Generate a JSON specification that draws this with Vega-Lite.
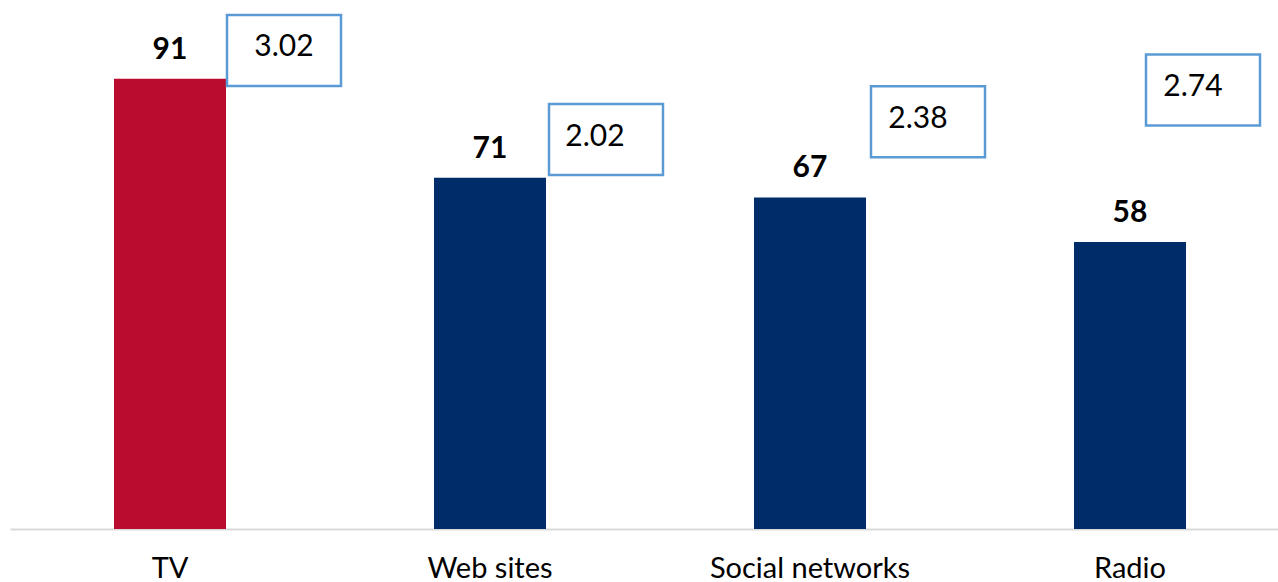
{
  "$schema": "https://vega.github.io/schema/vega-lite/v6.json",
  "autosize": "none",
  "width": 1280,
  "height": 529,
  "padding": {"left": 10, "top": 0, "right": 0, "bottom": 53},
  "background": "white",
  "config": {"view": {"stroke": null}, "font": "Lato"},
  "data": {
    "values": [
      {"cat": "TV", "value": 91, "score": "3.02", "boxLevel": 96.7, "highlight": "yes"},
      {"cat": "Web sites", "value": 71, "score": "2.02", "boxLevel": 78.7, "highlight": "no"},
      {"cat": "Social networks", "value": 67, "score": "2.38", "boxLevel": 82.3, "highlight": "no"},
      {"cat": "Radio", "value": 58, "score": "2.74", "boxLevel": 88.7, "highlight": "no"}
    ]
  },
  "encoding": {
    "x": {
      "field": "cat",
      "type": "nominal",
      "sort": null,
      "scale": {"paddingInner": 0.65, "paddingOuter": 0.325},
      "axis": {
        "title": null,
        "ticks": false,
        "tickSize": 0,
        "labelAngle": 0,
        "labelLimit": 0,
        "labelFont": "Lato",
        "labelFontSize": 29,
        "labelColor": "#000000",
        "labelBaseline": "alphabetic",
        "labelPadding": 48,
        "domainColor": "#D9D9D9",
        "domainWidth": 2,
        "grid": false
      }
    }
  },
  "layer": [
    {
      "mark": {"type": "bar"},
      "encoding": {
        "y": {"field": "value", "type": "quantitative", "scale": {"domain": [0, 106.9], "nice": false, "zero": true}, "axis": null},
        "color": {
          "field": "highlight",
          "type": "nominal",
          "scale": {"domain": ["yes", "no"], "range": ["#BA0C2F", "#002D6A"]},
          "legend": null
        }
      }
    },
    {
      "mark": {"type": "text", "baseline": "alphabetic", "dy": -20, "fontSize": 30, "fontWeight": "bold", "font": "Lato", "color": "#000000"},
      "encoding": {
        "y": {"field": "value", "type": "quantitative"},
        "text": {"field": "value", "type": "quantitative"}
      }
    },
    {
      "mark": {
        "type": "point",
        "shape": "M-1,-0.623H1V0.623H-1Z",
        "size": 12996,
        "filled": false,
        "color": "#5B9BD5",
        "strokeWidth": 2.5,
        "opacity": 1,
        "xOffset": {"expr": "datum.cat === 'Radio' ? 73 : datum.cat === 'TV' ? 114 : datum.cat === 'Web sites' ? 116 : 118"}
      },
      "encoding": {
        "y": {"field": "boxLevel", "type": "quantitative"}
      }
    },
    {
      "mark": {
        "type": "text",
        "baseline": "alphabetic",
        "dy": 6,
        "fontSize": 30,
        "font": "Lato",
        "color": "#000000",
        "xOffset": {"expr": "datum.cat === 'Radio' ? 63 : datum.cat === 'TV' ? 114 : datum.cat === 'Web sites' ? 105 : 108"}
      },
      "encoding": {
        "y": {"field": "boxLevel", "type": "quantitative"},
        "text": {"field": "score", "type": "nominal"}
      }
    }
  ]
}
